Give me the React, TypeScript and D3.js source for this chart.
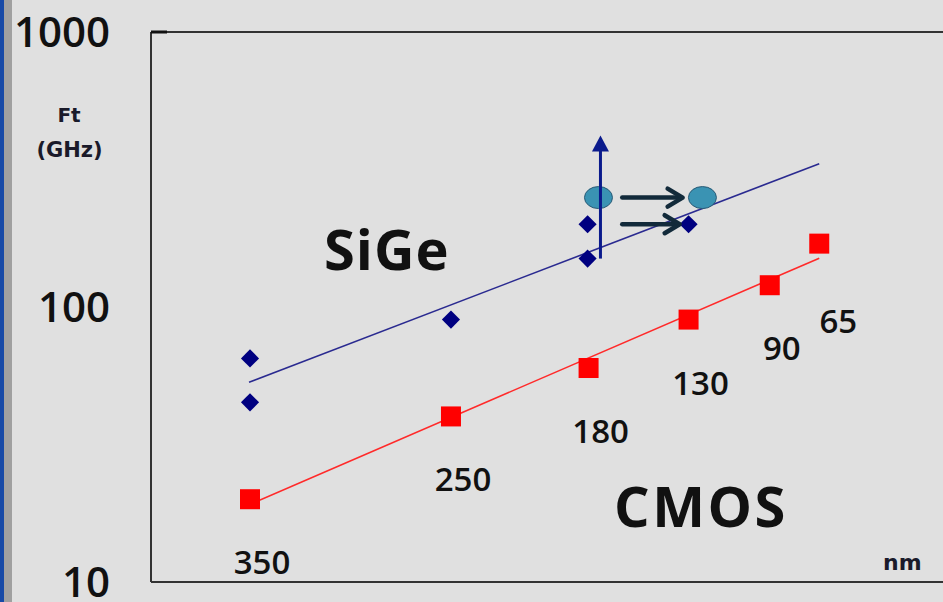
import React from "react";
import * as d3 from "d3";

// ---- data ----
const nodeLabels = ["350", "250", "180", "130", "90", "65"];
const nodeX = [1.0, 3.03, 4.42, 5.43, 6.25, 6.75];
const cmosFt = [20, 40, 60, 90, 120, 170];
const sigeX = [1.0, 1.0, 3.03, 4.41, 4.41, 5.43];
const sigeFt = [65, 45, 90, 200, 150, 200];
const projX = [4.52, 5.57];
const projFt = [250, 250];
const yTicks = [10, 100, 1000];
const trendSpan = [0.99, 6.75];
const vArrow = { x: 4.54, from: 150, to: 420 };
const hArrows = [
  { x0: 4.76, x1: 5.37, v: 250 },
  { x0: 4.76, x1: 5.34, v: 200 },
];

const W = 943;
const H = 602;

function logFit(xs: number[], ys: number[]) {
  const ly = ys.map((v) => Math.log10(v));
  const mx = d3.mean(xs)!;
  const my = d3.mean(ly)!;
  let sxy = 0,
    sxx = 0;
  xs.forEach((x, i) => {
    sxy += (x - mx) * (ly[i] - my);
    sxx += (x - mx) * (x - mx);
  });
  const b = sxy / sxx;
  const a = my - b * mx;
  return (x: number) => Math.pow(10, a + b * x);
}

export default function App() {
  const x = d3.scaleLinear().domain([0, 8]).range([151, 943]);
  const y = d3.scaleLog().domain([10, 1000]).range([582, 32]);

  const sigeFit = logFit(sigeX, sigeFt);
  const cmosFit = logFit(nodeX, cmosFt);
  const line = d3
    .line<[number, number]>()
    .x((d) => x(d[0]))
    .y((d) => y(d[1]));

  const sigeTrend = line(trendSpan.map((t) => [t, sigeFit(t)] as [number, number]))!;
  const cmosTrend = line(trendSpan.map((t) => [t, cmosFit(t)] as [number, number]))!;

  const diamond = d3.symbol().type(d3.symbolDiamond2).size(210)()!;
  const sq = 20;

  const numFont = "'Open Sans', sans-serif";
  const vx = x(vArrow.x);
  const vTip = y(vArrow.to);

  return (
    <svg
      width={W}
      height={H}
      style={{ position: "absolute", left: 0, top: 0, display: "block" }}
    >
      <rect x={0} y={0} width={W} height={H} fill="#e0e0e0" />
      <rect x={0} y={0} width={4} height={H} fill="#1749a6" />
      <rect x={4} y={0} width={8} height={H} fill="#a0a0a0" />

      {/* frame */}
      <g stroke="#333" strokeWidth={2} fill="none">
        <line x1={x(0)} x2={x(0)} y1={y(1000)} y2={y(10)} />
        <line x1={x(0)} x2={W} y1={y(1000)} y2={y(1000)} />
        <line x1={x(0)} x2={W} y1={y(10)} y2={y(10)} />
      </g>
      <line x1={x(0)} x2={x(0) + 16} y1={y(1000)} y2={y(1000)} stroke="#111" strokeWidth={3} />

      {/* y tick labels */}
      {yTicks.map((t) => (
        <text
          key={t}
          x={110}
          y={y(t) + 15}
          textAnchor="end"
          fontFamily={numFont}
          fontWeight={600}
          fontSize={42}
          fill="#111"
        >
          {d3.format("d")(t)}
        </text>
      ))}

      <text x={69} y={122} textAnchor="middle" fontFamily="'DejaVu Sans', sans-serif" fontWeight={700} fontSize={20} fill="#1a1a2a">
        Ft
      </text>
      <text x={69.5} y={157} textAnchor="middle" fontFamily="'DejaVu Sans', sans-serif" fontWeight={700} fontSize={21} fill="#1a1a2a">
        (GHz)
      </text>
      <text x={883} y={570} fontFamily="'DejaVu Sans', sans-serif" fontWeight={700} fontSize={22} fill="#1a1a2a">
        nm
      </text>

      {/* trend lines */}
      <path d={sigeTrend} stroke="#2a2a90" strokeWidth={1.6} fill="none" />
      <path d={cmosTrend} stroke="#ff2a2a" strokeWidth={1.6} fill="none" />

      {/* SiGe diamonds */}
      {sigeX.map((sx, i) => (
        <path
          key={i}
          d={diamond}
          transform={`translate(${x(sx)},${y(sigeFt[i])})`}
          fill="#000080"
        />
      ))}

      {/* CMOS squares */}
      {nodeX.map((nx, i) => (
        <rect
          key={i}
          x={x(nx) - sq / 2}
          y={y(cmosFt[i]) - sq / 2}
          width={sq}
          height={sq}
          fill="#ff0000"
        />
      ))}

      {/* projection circles */}
      {projX.map((px, i) => (
        <ellipse
          key={i}
          cx={x(px)}
          cy={y(projFt[i])}
          rx={14}
          ry={11}
          fill="#3a93b3"
          stroke="#2a5a75"
          strokeWidth={1}
        />
      ))}

      {/* vertical arrow */}
      <line x1={vx} x2={vx} y1={y(vArrow.from)} y2={vTip + 12} stroke="#0a1a8c" strokeWidth={3} />
      <path
        d={`M${vx},${vTip} L${vx - 8.5},${vTip + 16} L${vx + 8.5},${vTip + 16} Z`}
        fill="#0a1a8c"
      />

      {/* horizontal arrows */}
      {hArrows.map((a, i) => {
        const x0 = x(a.x0);
        const x1 = x(a.x1);
        const yy = y(a.v);
        return (
          <g key={i} stroke="#122a3a" strokeWidth={4.5} fill="none" strokeLinecap="round" strokeLinejoin="round">
            <line x1={x0} x2={x1 - 2} y1={yy} y2={yy} />
            <path d={`M${x1 - 15},${yy - 9} L${x1},${yy} L${x1 - 15},${yy + 9}`} />
          </g>
        );
      })}

      {/* node labels */}
      {nodeLabels.map((lab, i) => {
        const last = i === nodeLabels.length - 1;
        return (
          <text
            key={lab}
            x={x(nodeX[i]) + (last ? 19 : 12)}
            y={y(cmosFt[i]) + (last ? 89 : 75)}
            textAnchor="middle"
            fontFamily={numFont}
            fontWeight={600}
            fontSize={33}
            fill="#111"
          >
            {lab}
          </text>
        );
      })}

      <text x={324} y={270} fontFamily={numFont} fontWeight={700} fontSize={56} letterSpacing={1} fill="#111">
        SiGe
      </text>
      <text x={614} y={527} fontFamily={numFont} fontWeight={700} fontSize={56} letterSpacing={2.5} fill="#111">
        CMOS
      </text>
    </svg>
  );
}
